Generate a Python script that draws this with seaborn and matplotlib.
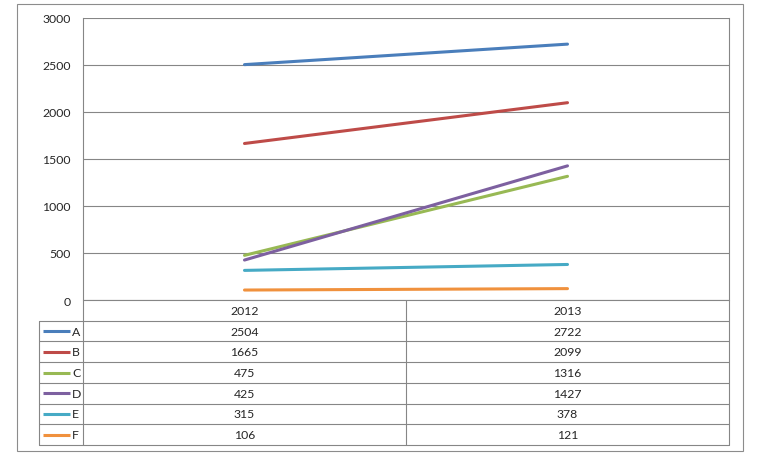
import pandas as pd
import matplotlib.pyplot as plt
import seaborn as sns
from matplotlib.patches import Rectangle

years = ["2012", "2013"]
series = ["A", "B", "C", "D", "E", "F"]
values = {
    "A": [2504, 2722],
    "B": [1665, 2099],
    "C": [475, 1316],
    "D": [425, 1427],
    "E": [315, 378],
    "F": [106, 121],
}
colors = ["#4A7EBB", "#BE4B48", "#98B954", "#7D60A0", "#46AAC5", "#F0913D"]
yticks = [0, 500, 1000, 1500, 2000, 2500, 3000]

rows = []
for s in series:
    for yr, v in zip(years, values[s]):
        rows.append({"year": yr, "series": s, "value": v})
df = pd.DataFrame(rows)

sns.set_style("white")
plt.rcParams["font.family"] = ["Lato", "DejaVu Sans"]
grid_c = "#868686"
fs = 8.8

W, H = 768, 460
fig = plt.figure(figsize=(W / 100, H / 100), dpi=100)

# outer chart border
fig.patches.append(Rectangle((17 / W, 1 - 452 / H), (743 - 17) / W, (452 - 5) / H,
                             transform=fig.transFigure, fill=False, edgecolor="#8c8c8c", lw=0.8))

# plot area
ax = fig.add_axes([83 / W, 1 - 301 / H, (729 - 83) / W, (301 - 19) / H])
sns.lineplot(data=df, x="year", y="value", hue="series", hue_order=series,
             palette=colors, linewidth=2.2, legend=False, ax=ax, sort=False)
ax.set_xlim(-0.5, 1.5)
ax.set_ylim(0, 3000)
ax.set_yticks(yticks)
ax.set_yticklabels([str(t) for t in yticks], fontsize=fs)
ax.set_xticks([])
ax.set_xlabel("")
ax.set_ylabel("")
ax.tick_params(axis="y", length=0, pad=9)
for t in yticks:
    ax.axhline(t, color=grid_c, lw=0.8, zorder=0)
for sp in ["top", "bottom"]:
    ax.spines[sp].set_visible(False)
for sp in ["left", "right"]:
    ax.spines[sp].set_color(grid_c)
    ax.spines[sp].set_linewidth(0.8)

# data table under the plot
leg_w = 44 / 323  # legend column width in category units
n = len(series)
axt = fig.add_axes([39 / W, 1 - 446 / H, (729 - 39) / W, (446 - 301) / H])
axt.set_xlim(-0.5 - leg_w, 1.5)
axt.set_ylim(n + 1, 0)
axt.axis("off")
lc = dict(color=grid_c, lw=0.8, clip_on=False)
# horizontal lines
axt.plot([-0.5, 1.5], [0, 0], **lc)
for r in range(1, n + 2):
    axt.plot([-0.5 - leg_w, 1.5], [r, r], **lc)
# vertical lines
axt.plot([-0.5 - leg_w, -0.5 - leg_w], [1, n + 1], **lc)
axt.plot([-0.5, -0.5], [0, n + 1], **lc)
axt.plot([0.5, 0.5], [0, n + 1], **lc)
axt.plot([1.5, 1.5], [0, n + 1], **lc)

for i, yr in enumerate(years):
    axt.text(i, 0.5, yr, ha="center", va="center", fontsize=fs)
for r, (s, c) in enumerate(zip(series, colors), start=1):
    axt.plot([-0.5 - leg_w + 0.012, -0.5 - leg_w + 0.096], [r + 0.5, r + 0.5], color=c, lw=2.2,
             solid_capstyle="butt")
    axt.text(-0.5 - leg_w + 0.103, r + 0.5, s, ha="left", va="center", fontsize=fs)
    for i, v in enumerate(values[s]):
        axt.text(i, r + 0.5, str(v), ha="center", va="center", fontsize=fs)

fig.savefig("out.png", dpi=100)
